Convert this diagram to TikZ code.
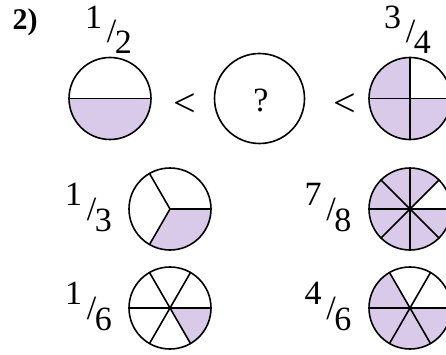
\documentclass[tikz,border=0pt]{standalone}
\usepackage{fontspec}
\setmainfont{Liberation Serif}
\definecolor{piepurple}{RGB}{216,202,232}
\definecolor{pieblack}{RGB}{0,0,0}
\usetikzlibrary{positioning}

\tikzset{
  piefill/.style={fill=piepurple},
  pieline/.style={draw=pieblack,line width=1.6pt,line cap=round},
  numtext/.style={inner sep=0pt,font=\fontsize{34}{34}\selectfont},
  lesstext/.style={inner sep=0pt,font=\fontsize{40}{40}\selectfont},
}
\newcommand{\pier}{41}
\newcommand{\fraclabel}[2]{\raisebox{0.42em}{#1}\kern0.14em/\kern-0.04em\raisebox{-0.32em}{#2}}
% pie: centre, parts, filled parts
\newcommand{\fracpie}[3]{%
  \foreach \k in {#3}
    \fill[piefill] (#1) -- ++({360/#2*(\k-1)}:\pier)
      arc[start angle={360/#2*(\k-1)}, delta angle={360/#2}, radius=\pier] -- cycle;
  \foreach \k in {1,...,#2}
    \draw[pieline] (#1) -- ++({360/#2*\k}:\pier);
  \draw[pieline] (#1) circle[radius=\pier];
}

\begin{document}
\begin{tikzpicture}[x=1pt,y=1pt]
  \useasboundingbox (0,0) rectangle (446,354);

  % top row
  \coordinate (half) at (110,255.5);
  \coordinate (quest) at (259.5,255.5);
  \coordinate (threeq) at (410,255.5);
  \fracpie{half}{2}{2}
  \draw[pieline] (quest) circle[radius=45];
  \fracpie{threeq}{4}{2,3,4}

  \node[numtext,font=\fontsize{30}{30}\selectfont\bfseries] (task) at (25,332) {2)};
  \node[numtext] (halflbl) at (108.5,324) {\fraclabel{1}{2}};
  \node[numtext] (threeqlbl) at (407.5,324) {\fraclabel{3}{4}};
  \node[lesstext] (lessa) at (185,249) {<};
  \node[numtext] (qmark) at (261,254) {?};
  \node[lesstext] (lessb) at (345,249) {<};

  % lower rows
  \coordinate (third) at (170,145);
  \coordinate (seventh) at (410,145);
  \coordinate (sixth) at (170,46);
  \coordinate (foursix) at (410,46);
  \fracpie{third}{3}{3}
  \fracpie{seventh}{8}{2,...,8}
  \fracpie{sixth}{6}{6}
  \fracpie{foursix}{6}{3,4,5,6}

  \node[numtext] (thirdlbl) at (88.5,146.5) {\fraclabel{1}{3}};
  \node[numtext] (seventhlbl) at (328,146.5) {\fraclabel{7}{8}};
  \node[numtext] (sixthlbl) at (88.5,47.5) {\fraclabel{1}{6}};
  \node[numtext] (foursixlbl) at (328,47.5) {\fraclabel{4}{6}};
\end{tikzpicture}
\end{document}
